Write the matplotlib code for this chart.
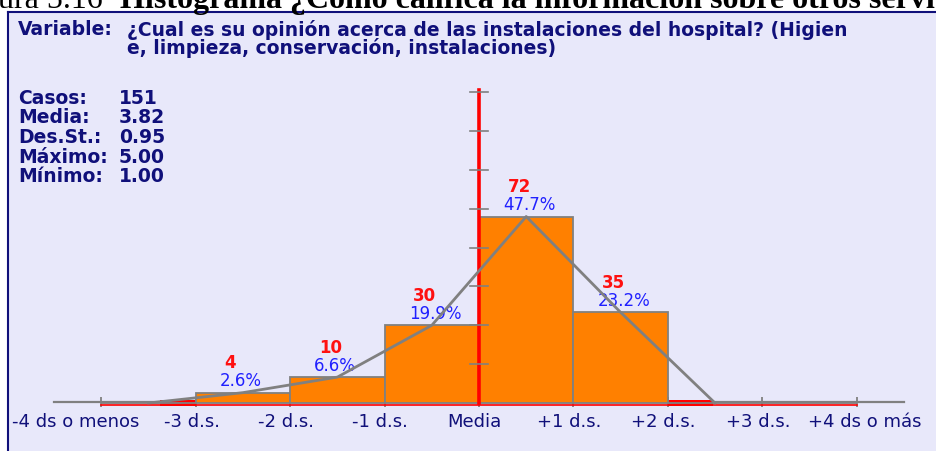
import numpy as np
import matplotlib.pyplot as plt

# histogram data (bins in s.d. units around the mean)
bin_left = [-4, -3, -2, -1, 0, 1, 2, 3]
counts = [0, 4, 10, 30, 72, 35, 0, 0]
pcts = ["", "2.6%", "6.6%", "19.9%", "47.7%", "23.2%", "", ""]
tick_labels = ["-4 ds o menos", "-3 d.s.", "-2 d.s.", "-1 d.s.", "Media",
               "+1 d.s.", "+2 d.s.", "+3 d.s.", "+4 ds o más"]
stat_names = ["Casos:", "Media:", "Des.St.:", "Máximo:", "Mínimo:"]
stat_vals = ["151", "3.82", "0.95", "5.00", "1.00"]
mean_line_top = 121
mean_ticks = [15, 30, 45, 60, 75, 90, 105, 120]

W, H = 936, 451
X0, DX = 479, 94.4   # px of "Media", px per s.d.
Y0, DY = 403, 2.59   # px of baseline, px per case

bg = "#e8e8fa"
navy = "#10107a"
grey = "#808080"

fig = plt.figure(figsize=(W / 100, H / 100), dpi=100)
fig.patch.set_facecolor("white")

# caption cut at the top of the page
fig.text(-2 / W, 1 - 8 / H, "ura 5.16", family="Liberation Serif", fontsize=23,
         va="baseline", ha="left", color="black")
fig.text(120 / W, 1 - 8 / H, "Histograma ¿Cómo califica la información sobre otros servicios",
         family="Liberation Serif", fontsize=23, fontweight="bold",
         va="baseline", ha="left", color="black")

ax = fig.add_axes([8 / W, 0, (W - 8) / W, (H - 12) / H])
ax.set_facecolor(bg)
ax.set_xlim((8 - X0) / DX, (W - X0) / DX)
ax.set_ylim((Y0 - H) / DY, (Y0 - 12) / DY)
ax.set_xticks([])
ax.set_yticks([])
for s in ["right", "bottom"]:
    ax.spines[s].set_visible(False)
for s in ["left", "top"]:
    ax.spines[s].set_color(navy)
    ax.spines[s].set_linewidth(1.5)

# x axis line with ticks
ticks = np.arange(-4, 5)
ax.plot([-4.5, 4.5], [0.4, 0.4], color=grey, lw=1.6, zorder=2)
ax.plot(ticks, np.full(len(ticks), 0.4), ls="none", marker="|", ms=7, mew=1.3,
        color=grey, zorder=2)

# red baseline + small red pieces
ax.plot([-4, 4], [-0.6, -0.6], color="red", lw=1.2, zorder=2.5)
ax.fill_between([-3.38, -3], -1.0, 1.1, color="red", lw=0, zorder=2.5)
ax.fill_between([2, 2.48], -1.0, 1.1, color="red", lw=0, zorder=2.5)

# bars
ax.bar(bin_left, counts, width=1, align="edge", color="#ff8000", edgecolor=grey,
       lw=1.3, zorder=3)

# mean line
ax.plot([0, 0], [0, mean_line_top], color="red", lw=2.6, zorder=4)
for t in mean_ticks:
    ax.plot([-0.1, 0.1], [t, t], color=grey, lw=1.2, zorder=4)

# labels over bars
for b, c, p in zip(bin_left, counts, pcts):
    if c == 0:
        continue
    ax.text(b + 0.5 - 0.196, c + 11.4, str(c), color="#ff1010", fontweight="bold",
            fontsize=12, ha="left", va="center", zorder=4.5)
    ax.text(b + 0.5 - 0.244, c + 4.4, p, color="#2020ff", fontsize=12,
            ha="left", va="center", zorder=4.5)

# frequency polygon (drawn over the labels)
mids = [b + 0.5 for b in bin_left[:7]]
ax.plot(mids, counts[:7], color=grey, lw=2, zorder=5)

# tick labels
for i, (t, lab) in enumerate(zip(ticks, tick_labels)):
    if i == 0:
        ax.text((12 - X0) / DX, -7.3, lab, ha="left", va="center", color=navy, fontsize=13)
    elif i == len(ticks) - 1:
        ax.text(t + 0.09, -7.3, lab, ha="center", va="center", color=navy, fontsize=13)
    else:
        ax.text(t - 0.045, -7.3, lab, ha="center", va="center", color=navy, fontsize=13)

# title
fig.text(18 / W, 1 - 29.5 / H, "Variable:", color=navy, fontweight="bold", fontsize=13.5,
         va="center", ha="left")
fig.text(127 / W, 1 - 29.5 / H,
         "¿Cual es su opinión acerca de las instalaciones del hospital? (Higien",
         color=navy, fontweight="bold", fontsize=13.5, va="center", ha="left")
fig.text(127 / W, 1 - 48.5 / H, "e, limpieza, conservación, instalaciones)",
         color=navy, fontweight="bold", fontsize=13.5, va="center", ha="left")

# stats
for k, (n, v) in enumerate(zip(stat_names, stat_vals)):
    y = 1 - (98 + 19.7 * k) / H
    fig.text(18 / W, y, n, color=navy, fontweight="bold", fontsize=13.5, va="center")
    fig.text(119 / W, y, v, color=navy, fontweight="bold", fontsize=13.5, va="center")

fig.savefig("out.png", dpi=100)
